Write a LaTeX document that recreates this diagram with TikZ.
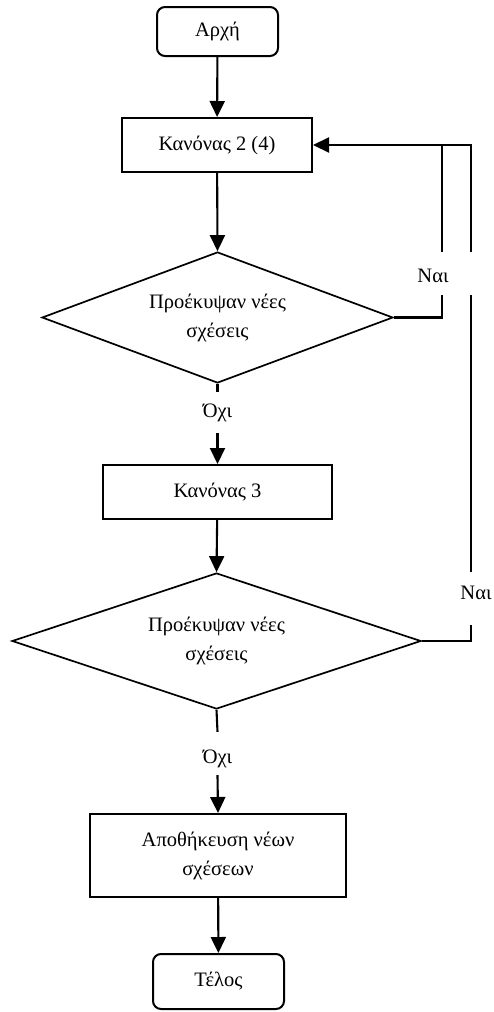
\documentclass[tikz,border=0pt]{standalone}
\usepackage{fontspec}
\setmainfont{Liberation Serif}
\usetikzlibrary{arrows.meta,shapes.geometric}

\begin{document}
\begin{tikzpicture}[x=1pt,y=-1pt,
  every node/.style={font=\fontsize{20.5}{29}\selectfont, inner sep=0pt, align=center},
  line/.style={line width=2.1pt},
  arrowline/.style={line width=2.1pt, -{Triangle[length=16pt,width=15pt]}},
  terminal/.style={draw, line width=2pt, rounded corners=8pt, rectangle},
  process/.style={draw, line width=2pt, rectangle},
  decision/.style={draw, line width=1.7pt, diamond, aspect=2.8},
  gap/.style={rectangle, minimum width=40pt}
]
\useasboundingbox (0,0) rectangle (494,1012);

% main column
\node[terminal, minimum width=121pt, minimum height=49pt] (start) at (217.5,31.5) {Αρχή};
\node[process, minimum width=190pt, minimum height=54pt] (k2) at (217,145) {Κανόνας 2 (4)};
\node[decision, minimum width=351pt, minimum height=131pt] (d1) at (217.5,317.5) {Προέκυψαν νέες\\σχέσεις};
\node[gap, minimum height=41pt] (no1) at (217.5,412.5) {Όχι};
\node[process, minimum width=229pt, minimum height=54pt] (k3) at (217.5,492) {Κανόνας 3};
\node[decision, minimum width=409pt, minimum height=136pt] (d2) at (216.5,641) {Προέκυψαν νέες\\σχέσεις};
\node[gap, minimum height=43pt, text height=23pt, text depth=4pt] (no2) at (217.5,753.5) {Όχι};
\node[process, minimum width=256pt, minimum height=83pt] (store) at (218,855.5) {Αποθήκευση νέων\\σχέσεων};
\node[terminal, minimum width=131pt, minimum height=55pt] (end) at (218.5,981.5) {Τέλος};

% yes labels and the ends of the broken feedback lines
\node (yes1) at (433,276) {Ναι};
\node (yes2) at (476,593) {Ναι};
\coordinate (innerTop) at (442,252);
\coordinate (innerBot) at (442,295);
\coordinate (outerTop) at (471,252);
\coordinate (outerMidA) at (471,295);
\coordinate (outerMidB) at (471,572);
\coordinate (outerBot) at (471,625);

% forward flow
\draw[arrowline] (start) -- (k2);
\draw[arrowline] (k2) -- (d1.north);
\draw[line] (d1.south) -- (no1.north);
\draw[arrowline] (no1.south) -- (k3.north);
\draw[arrowline] (k3) -- (d2.north);
\draw[line] (d2.south) -- (no2.north);
\draw[arrowline] (no2.south) -- (store.north);
\draw[arrowline] (store) -- (end);

% feedback loops
\draw[line] (d1.east) -| (innerBot);
\draw[line] (innerTop) -- (innerTop |- k2.east);
\draw[arrowline] (outerTop) |- (k2.east);
\draw[line] (outerMidA) -- (outerMidB);
\draw[line] (d2.east) -| (outerBot);
\end{tikzpicture}
\end{document}
